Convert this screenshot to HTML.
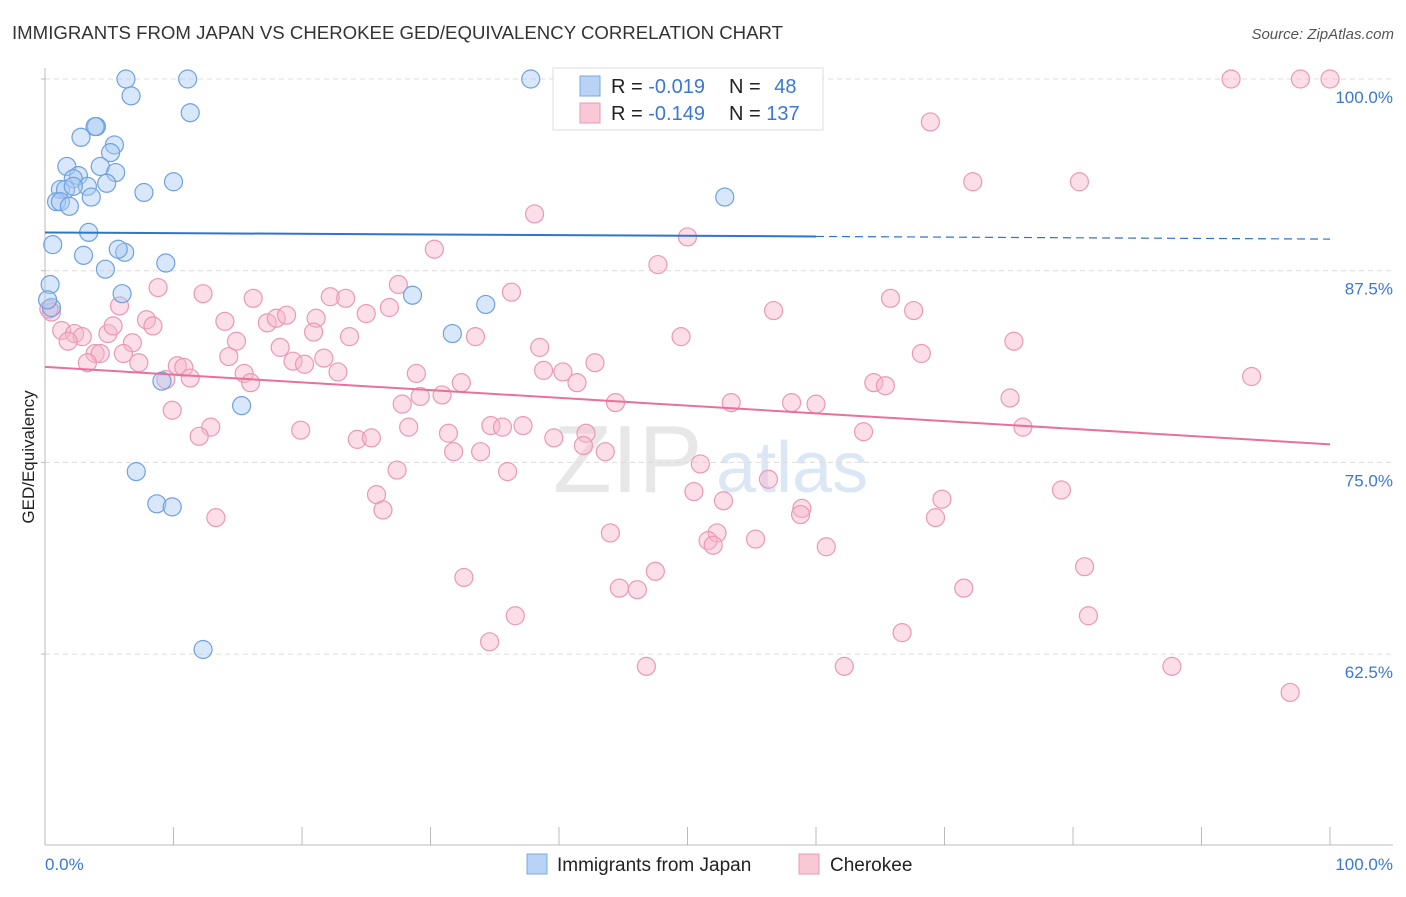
<!DOCTYPE html>
<html><head><meta charset="utf-8">
<style>
body{margin:0;background:#fff;font-family:"Liberation Sans",sans-serif;}
svg text{font-family:"Liberation Sans",sans-serif;}
</style></head>
<body>
<svg id="chart" width="1406" height="892" xmlns="http://www.w3.org/2000/svg">
<text x="12" y="39" font-size="18" fill="#333" textLength="771" lengthAdjust="spacingAndGlyphs">IMMIGRANTS FROM JAPAN VS CHEROKEE GED/EQUIVALENCY CORRELATION CHART</text>
<text x="1394" y="39" font-size="15" fill="#555" font-style="italic" text-anchor="end">Source: ZipAtlas.com</text>
<text x="34" y="457" font-size="17" fill="#222" text-anchor="middle" transform="rotate(-90 34 457)">GED/Equivalency</text>
<g opacity="0.5">
<text x="553" y="492" font-size="96" fill="#d0d0d0" font-family="Liberation Serif,serif">ZIP</text>
<text x="716" y="492" font-size="72" fill="#b8d0ec">atlas</text>
</g>
<g id="grid"></g><g id="axes"></g><g id="pts"></g><g id="lines"></g>
<g>
<rect x="553" y="68" width="270" height="62" fill="#fff" stroke="#ddd"/>
<rect x="580" y="76" width="20" height="20" fill="#b8d3f5" stroke="#7aa8e0"/>
<rect x="580" y="103" width="20" height="20" fill="#f8c8d6" stroke="#eb98b5"/>
<text x="611" y="93" font-size="20" fill="#222">R = <tspan fill="#3a78d4">-0.019</tspan></text>
<text x="729" y="93" font-size="20" fill="#222">N = <tspan fill="#3a78d4" dx="8">48</tspan></text>
<text x="611" y="120" font-size="20" fill="#222">R = <tspan fill="#3a78d4">-0.149</tspan></text>
<text x="729" y="120" font-size="20" fill="#222">N = <tspan fill="#3a78d4">137</tspan></text>
</g>
<g>
<rect x="527" y="854" width="20" height="20" fill="#b8d3f5" stroke="#7aa8e0"/>
<text x="557" y="871" font-size="19" fill="#222">Immigrants from Japan</text>
<rect x="799" y="854" width="20" height="20" fill="#f8c8d6" stroke="#eb98b5"/>
<text x="830" y="871" font-size="19" fill="#222">Cherokee</text>
</g>
</svg>
<script>
const yTicks=[62.5,75,87.5,100];
const yTickLabels=["62.5%","75.0%","87.5%","100.0%"];
const xEndLabels=["0.0%","100.0%"];
const japanX=[6.3,11.1,37.8,43.0,6.7,11.3,4.0,3.9,2.8,5.4,5.1,1.7,4.3,2.6,5.5,2.2,4.8,3.3,1.2,1.6,2.2,10.0,7.7,3.6,0.9,1.2,1.9,52.9,3.4,0.6,3.0,6.2,5.7,9.4,4.7,0.4,6.0,28.6,34.3,0.5,31.7,9.1,15.3,7.1,8.7,9.9,12.3,0.2];
const japanY=[100,100,100,100,98.9,97.8,96.9,96.9,96.2,95.7,95.2,94.3,94.3,93.7,93.9,93.5,93.2,93.0,92.8,92.8,93.0,93.3,92.6,92.3,92.0,92.0,91.7,92.3,90.0,89.2,88.5,88.7,88.9,88.0,87.6,86.6,86.0,85.9,85.3,85.1,83.4,80.3,78.7,74.4,72.3,72.1,62.8,85.6];
const cherX=[53.6,92.3,97.7,100,68.9,72.2,80.5,38.1,50.0,30.3,47.7,27.5,36.3,8.8,12.3,16.2,22.2,23.4,65.8,26.8,56.7,67.6,25.0,5.8,7.9,8.4,14.0,17.3,18.0,18.8,21.1,20.9,23.7,33.5,49.5,75.4,0.5,1.3,2.3,2.9,4.9,5.3,1.8,6.8,38.5,42.8,68.2,3.9,4.3,3.3,6.1,7.3,14.3,14.9,18.3,19.3,20.2,21.7,10.3,10.8,11.3,9.4,15.5,16.0,22.8,28.9,32.4,38.8,40.3,41.4,93.9,64.5,65.4,29.2,30.9,27.8,44.4,53.4,58.1,60.0,75.1,9.9,12.9,12.0,19.9,28.3,31.4,34.7,35.6,37.2,42.1,41.9,39.6,24.3,25.4,31.8,33.9,43.6,63.7,76.1,51.0,27.4,36.0,56.3,25.8,26.3,50.5,52.8,69.8,79.1,58.9,58.8,69.3,13.3,44.0,52.3,51.6,52.0,55.3,60.8,47.5,32.6,44.7,46.1,71.5,80.9,36.6,81.2,34.6,66.7,46.8,62.2,87.7,96.9,0.3];
const cherY=[100,100,100,100,97.2,93.3,93.3,91.2,89.7,88.9,87.9,86.6,86.1,86.4,86.0,85.7,85.8,85.7,85.7,85.1,84.9,84.9,84.7,85.2,84.3,83.9,84.2,84.1,84.4,84.6,84.4,83.5,83.2,83.2,83.2,82.9,84.8,83.6,83.4,83.2,83.4,83.9,82.9,82.8,82.5,81.5,82.1,82.1,82.1,81.5,82.1,81.5,81.9,82.9,82.5,81.6,81.4,81.8,81.3,81.2,80.5,80.4,80.8,80.2,80.9,80.8,80.2,81.0,80.9,80.2,80.6,80.2,80.0,79.3,79.4,78.8,78.9,78.9,78.9,78.8,79.2,78.4,77.3,76.7,77.1,77.3,76.9,77.4,77.3,77.4,76.9,76.1,76.6,76.5,76.6,75.7,75.7,75.7,77.0,77.3,74.9,74.5,74.4,73.9,72.9,71.9,73.1,72.5,72.6,73.2,72.0,71.6,71.4,71.4,70.4,70.4,69.9,69.6,70.0,69.5,67.9,67.5,66.8,66.7,66.8,68.2,65.0,65.0,63.3,63.9,61.7,61.7,61.7,60.0,85.0];

const NS='http://www.w3.org/2000/svg';
const X0=45,X1=1330,PB=845;
const sx=v=>X0+(X1-X0)*v/100;
const sy=v=>79+(100-v)*(191.7/12.5);
function mk(tag,attrs,parent){const e=document.createElementNS(NS,tag);for(const k in attrs)e.setAttribute(k,attrs[k]);parent.appendChild(e);return e;}
const grid=document.getElementById('grid'),axes=document.getElementById('axes'),pts=document.getElementById('pts'),lines=document.getElementById('lines');
yTicks.forEach((t,i)=>{
  const g=mk('line',{x1:X0,x2:1393,y1:sy(t),y2:sy(t),stroke:'#dcdcdc','stroke-dasharray':'5,4'},grid);
  
  
  const tk=mk('line',{x1:X0-4,x2:X0,y1:sy(t),y2:sy(t),stroke:'#bbb'},axes);
  
  
  const l=mk('text',{x:1393,y:sy(t)+24,'font-size':17,fill:'#3a78d4','text-anchor':'end'},axes);
  l.textContent=yTickLabels[i];
  
  
});
const ya=mk('line',{x1:X0,x2:X0,y1:68,y2:PB,stroke:'#bbb'},axes);


const xa=mk('line',{x1:X0,x2:1393,y1:PB,y2:PB,stroke:'#bbb'},axes);


for(let i=0;i<=10;i++){
  const t=mk('line',{x1:sx(i*10),x2:sx(i*10),y1:827,y2:PB,stroke:'#bbb'},axes);
  
  
}
[[0,'start',X0],[1,'end',1393]].forEach(([i,a,x])=>{
  const l=mk('text',{x:x,y:870,'font-size':17,fill:'#3a78d4','text-anchor':a},axes);
  l.textContent=xEndLabels[i];
  
  
});
function drawPts(xs,ys,fill,stroke,name){
  xs.forEach((v,i)=>{
    const c=mk('circle',{cx:sx(v),cy:sy(ys[i]),r:9,fill:fill,'fill-opacity':0.45,stroke:stroke,'stroke-width':1.2},pts);
    
    
  });
}
drawPts(cherX,cherY,'#f6b6ca','#eb98b5','cherokee-point');
drawPts(japanX,japanY,'#a9c9f2','#6fa0e0','japan-point');
function fit(xs,ys){const n=xs.length;let mx=0,my=0;xs.forEach((v,i)=>{mx+=v;my+=ys[i];});mx/=n;my/=n;let a=0,b=0;xs.forEach((v,i)=>{a+=(v-mx)*(ys[i]-my);b+=(v-mx)*(v-mx);});const s=a/b;return x=>my+s*(x-mx);}
const fj=fit(japanX,japanY),fc=fit(cherX,cherY);
const l1=mk('line',{x1:sx(0),y1:sy(fj(0)),x2:sx(60),y2:sy(fj(60)),stroke:'#2f74d0','stroke-width':2},lines);


const l2=mk('line',{x1:sx(60),y1:sy(fj(60)),x2:sx(100),y2:sy(fj(100)),stroke:'#2f74d0','stroke-width':1.2,'stroke-dasharray':'8,5'},lines);


const l3=mk('line',{x1:sx(0),y1:sy(fc(0)),x2:sx(100),y2:sy(fc(100)),stroke:'#e8709a','stroke-width':2},lines);


</script>
</body></html>
